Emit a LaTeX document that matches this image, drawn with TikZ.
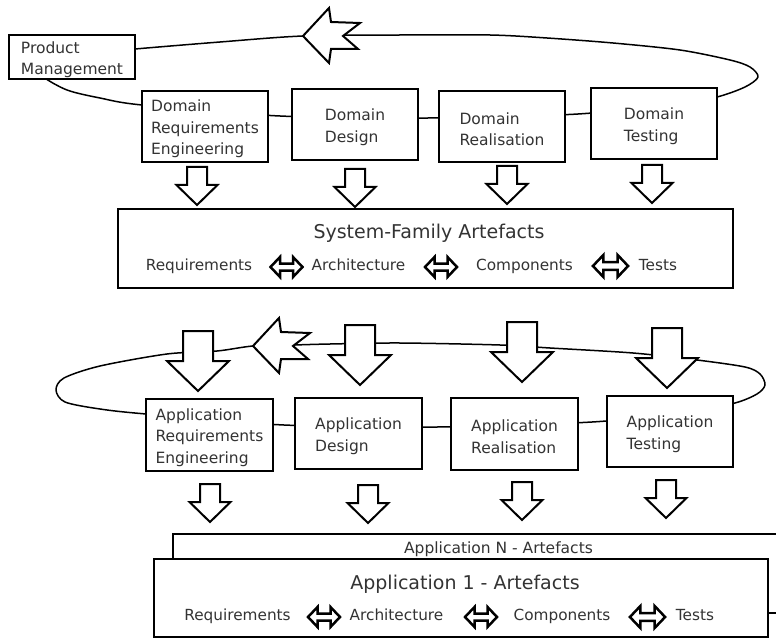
\documentclass[tikz,border=0pt]{standalone}
\usepackage{fontspec}
\setmainfont{DejaVu Sans}
\begin{document}
\begin{tikzpicture}[x=1pt,y=-1pt,
  loopline/.style={line width=1.5pt, line join=round},
  procbox/.style={draw, line width=2.3pt, fill=white, minimum width=126pt,
    minimum height=71pt, inner sep=0pt},
  boxtext/.style={inner sep=0pt, align=left, text=black!80, yshift=-2.5pt,
    font=\fontsize{15.5}{21.5}\selectfont},
  artbox/.style={draw, line width=2.3pt, fill=white, inner sep=0pt},
  titletext/.style={inner sep=0pt, anchor=base, text=black!80,
    font=\fontsize{19}{23}\selectfont},
  subtitletext/.style={inner sep=0pt, anchor=base, text=black!80,
    font=\fontsize{15.5}{19}\selectfont},
  rowtext/.style={inner sep=0pt, anchor=base, text=black!80,
    font=\fontsize{15.3}{19}\selectfont},
  blockarrow/.style={draw, fill=white, line width=2pt, line join=miter},
  pics/smalldown/.style={code={
    \draw[blockarrow] (-10,0) -- (10,0) -- (10,18) -- (20.5,18) -- (0,38)
      -- (-20.5,18) -- (-10,18) -- cycle;}},
  pics/bigdown/.style={code={
    \draw[blockarrow] (-15,0) -- (15,0) -- (15,30) -- (31,30) -- (0,60)
      -- (-31,30) -- (-15,30) -- cycle;}},
  pics/leftblock/.style={code={
    \draw[blockarrow] (0,0) -- (26,-28) -- (28,-14) -- (57,-13) -- (40,0)
      -- (55,13) -- (28,13) -- (26,27) -- cycle;}},
  pics/dblarrow/.style={code={
    \draw[blockarrow, line width=2.5pt] (-16,0) -- (-6.5,-10) -- (-6.5,-3.5)
      -- (6.5,-3.5) -- (6.5,-10) -- (16,0) -- (6.5,10) -- (6.5,3.5)
      -- (-6.5,3.5) -- (-6.5,10) -- cycle;}}
]
\useasboundingbox (0,0) rectangle (776,639);
\clip (0,0) rectangle (776,639);

% ---------- domain engineering loop ----------
\draw[loopline] plot[smooth cycle, tension=0.5] coordinates {
  (758,77) (750,67) (730,60) (680,50) (613,43) (547,38) (490,35) (400,35)
  (303,36) (220,42) (135,49) (70,55) (35,64) (42,76) (67,90) (100,98)
  (142,105) (280,116) (428,118) (578,114) (680,103) (717,97) (745,87)};

\node[procbox, minimum height=44pt,
  label={[boxtext]center:{Product\\Management}}] (pm) at (72,57) {};
\node[procbox, label={[boxtext]center:{Domain\\Requirements\\Engineering}}]
  (dre) at (205,126.5) {};
\node[procbox, label={[boxtext]center:{Domain\\Design}}] (dd) at (355,124.5) {};
\node[procbox, label={[boxtext]center:{Domain\\Realisation}}] (dr) at (502,126.5) {};
\node[procbox, label={[boxtext]center:{Domain\\Testing}}] (dt) at (654,123.5) {};

\pic (loopheadA) at (303,36) {leftblock};

% ---------- system-family artefacts ----------
\pic (dnA1) at (197,167) {smalldown};
\pic (dnA2) at (355,169) {smalldown};
\pic (dnA3) at (507,166) {smalldown};
\pic (dnA4) at (652,165) {smalldown};

\node[artbox, minimum width=615pt, minimum height=79pt] (sfa) at (425.5,248.5) {};
\node[titletext] (sfatitle) at (429,238) {System-Family Artefacts};
\node[rowtext] (sfareq)  at (199,270) {Requirements};
\node[rowtext] (sfaarch) at (358.5,270) {Architecture};
\node[rowtext] (sfacomp) at (524.5,270) {Components};
\node[rowtext] (sfatest) at (658,270) {Tests};
\pic (sfadA) at (286.5,267) {dblarrow};
\pic (sfadB) at (441,267) {dblarrow};
\pic[scale=1.1] (sfadC) at (610.5,266) {dblarrow};

% ---------- application engineering loop ----------
\draw[loopline] plot[smooth cycle, tension=0.5] coordinates {
  (765,385) (760,374) (745,367) (697,360) (633,353) (550,348) (500,345)
  (400,343) (330,344) (293,345) (253,346) (217,351) (167,354) (100,366)
  (64,378) (56,390) (65,402) (100,409) (146,414) (284,425) (437,427)
  (592,422) (690,412) (735,403) (757,394)};

\node[procbox, minimum width=127pt, minimum height=72pt,
  label={[boxtext]center:{Application\\Requirements\\Engineering}}]
  (are) at (209.5,435) {};
\node[procbox, minimum width=127pt,
  label={[boxtext]center:{Application\\Design}}] (ad) at (358.5,433.5) {};
\node[procbox, minimum width=127pt, minimum height=72pt,
  label={[boxtext]center:{Application\\Realisation}}] (ar) at (514.5,434) {};
\node[procbox, label={[boxtext]center:{Application\\Testing}}]
  (at) at (670,431.5) {};

\pic (loopheadB) at (253,346) {leftblock};

\pic (dnB1) at (198,331) {bigdown};
\pic (dnB2) at (360,325) {bigdown};
\pic (dnB3) at (522,322) {bigdown};
\pic (dnB4) at (667,328) {bigdown};

% ---------- application artefacts ----------
\pic (dnC1) at (210,484) {smalldown};
\pic (dnC2) at (368,485) {smalldown};
\pic (dnC3) at (522,482) {smalldown};
\pic (dnC4) at (666,480) {smalldown};

\node[artbox, minimum width=620pt, minimum height=79pt] (appn) at (483,573.5) {};
\node[subtitletext] (appntitle) at (498.5,553) {Application N - Artefacts};

\node[artbox, minimum width=614pt, minimum height=78pt] (app1) at (461,598) {};
\node[titletext] (app1title) at (465,589) {Application 1 - Artefacts};
\node[rowtext] (appreq)  at (237.5,620) {Requirements};
\node[rowtext] (apparch) at (396.5,620) {Architecture};
\node[rowtext] (appcomp) at (562,620) {Components};
\node[rowtext] (apptest) at (695,620) {Tests};
\pic (appdA) at (324,617) {dblarrow};
\pic (appdB) at (481,617) {dblarrow};
\pic[scale=1.1] (appdC) at (647.5,617) {dblarrow};
\end{tikzpicture}
\end{document}
